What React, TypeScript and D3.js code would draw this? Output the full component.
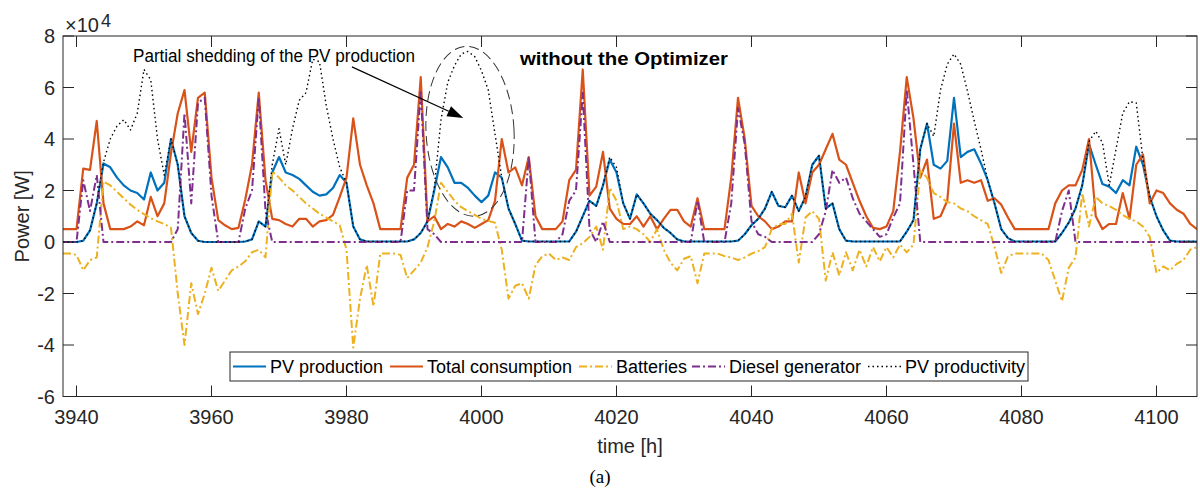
import React from 'react'
import * as d3 from 'd3'

// hourly samples, 3938 .. 4106 h (values in 1e4 W)
const hours = d3.range(3938, 4107)

const pvProduction = [
  0, 0, 0, 0.05, 0.45, 1.5, 3.05, 2.9, 2.5, 2.2,
  2.0, 1.9, 1.65, 2.7, 2.0, 2.3, 4.0, 3.0, 1.0, 0.35,
  0.05, 0, 0, 0, 0, 0, 0, 0.02, 0.1, 0.8,
  0.6, 2.7, 3.3, 2.7, 2.6, 2.45, 2.2, 1.95, 1.8, 1.85,
  2.1, 2.6, 2.3, 0.6, 0.1, 0.02, 0.02, 0.02, 0.02, 0.02,
  0.02, 0.02, 0.1, 0.35, 0.8, 2.0, 3.3, 2.9, 2.3, 2.3,
  2.1, 1.8, 1.55, 1.8, 2.7, 2.5, 1.3, 0.7, 0.05, 0.02,
  0.02, 0.02, 0.02, 0.02, 0.02, 0.02, 0.4, 1.0, 1.6, 1.4,
  2.2, 3.2, 2.7, 1.5, 0.9, 1.85, 1.5, 1.1, 0.85, 0.55,
  0.35, 0.1, 0.02, 0.02, 0.02, 0.02, 0.02, 0.02, 0.02, 0.02,
  0.05, 0.3, 0.65, 0.9, 1.3, 1.95, 1.4, 1.35, 1.8, 1.2,
  1.75, 3.0, 3.35, 1.3, 1.5, 0.5, 0.05, 0.02, 0.02, 0.02,
  0.02, 0.02, 0.02, 0.02, 0.02, 0.4, 0.85, 3.6, 4.6, 3.0,
  2.85, 3.15, 5.6, 3.3, 3.5, 3.6, 3.05, 2.4, 1.5, 0.5,
  0.15, 0.02, 0.02, 0.02, 0.02, 0.02, 0.02, 0.02, 0.35, 0.75,
  1.3, 2.2, 3.8, 3.0, 2.25, 2.15, 1.9, 2.4, 2.2, 3.7,
  3.0, 1.75, 1.0, 0.45, 0.05, 0.02, 0.02, 0.02, 0.02,
]

const totalConsumption = [
  0.5, 0.5, 0.5, 2.85, 2.8, 4.7, 1.5, 0.5, 0.5, 0.5,
  0.6, 0.8, 0.65, 1.75, 1.0, 1.5, 3.45, 5.0, 5.9, 3.5,
  5.6, 5.8, 2.5, 0.85, 0.65, 0.5, 0.55, 1.65, 3.0, 5.8,
  2.4, 0.9, 0.85, 0.7, 0.6, 0.9, 0.9, 0.6, 0.8, 0.85,
  1.05, 1.75, 2.5, 4.8, 3.0, 2.2, 1.5, 0.5, 0.5, 0.5,
  0.5, 2.5, 3.0, 6.4, 0.8, 1.0, 0.5, 0.7, 0.6, 0.8,
  0.7, 0.55, 0.7, 0.85, 1.6, 4.0, 2.7, 2.9, 2.2, 3.3,
  1.0, 0.5, 0.5, 0.5, 0.8, 2.4, 2.8, 6.7, 1.8, 2.15,
  3.5, 1.3, 0.9, 0.7, 0.7, 1.0, 0.6, 1.0, 0.5, 0.9,
  1.25, 1.25, 0.8, 0.6, 1.7, 0.5, 0.5, 0.5, 0.5, 2.5,
  5.6, 4.0, 1.4, 1.0, 0.8, 0.5, 0.6, 0.8, 0.8, 2.7,
  1.5, 2.7, 3.0, 3.6, 4.2, 3.2, 3.0, 2.3, 1.6, 1.0,
  0.55, 0.5, 0.6, 1.2, 3.5, 6.4, 4.8, 2.5, 3.2, 0.9,
  1.0, 1.6, 4.6, 2.3, 2.4, 2.3, 2.4, 1.6, 1.7, 1.45,
  0.95, 0.5, 0.5, 0.5, 0.5, 0.5, 0.5, 1.5, 2.0, 2.2,
  2.2, 2.8, 4.0, 1.0, 0.5, 0.7, 0.7, 1.9, 0.9, 3.0,
  3.4, 1.5, 2.0, 1.9, 1.5, 1.25, 1.1, 0.7, 0.5,
]

const batteries = [
  -0.45, -0.45, -0.5, -1.1, -0.7, -0.6, 2.35, 2.2, 1.95, 1.7,
  1.45, 1.25, 1.08, 0.92, 0.8, 0.7, 0.55, -2.0, -4.0, -1.6,
  -2.8, -2.0, -1.0, -1.9, -1.5, -1.1, -0.95, -0.75, -0.4, -0.3,
  -0.6, 2.75, 2.5, 2.2, 2.0, 1.75, 1.5, 1.3, 1.1, 0.95,
  0.8, 0.65, -0.3, -4.1, -2.2, -0.9, -2.5, -0.45, -0.45, -0.45,
  -0.5, -1.4, -1.1, -0.8, -0.2, 0.8, 2.3, 1.95, 1.6, 1.35,
  1.2, 1.05, 0.9, 0.82, 0.75, -0.3, -2.2, -1.7, -1.6, -2.2,
  -0.9, -0.55, -0.45, -0.7, -0.6, -0.7, -0.2, -0.05, 0.2, 0.6,
  -0.3, 2.1, 1.6, 0.5, 0.6, 0.5, 0.3, 0.0, 0.5, -0.3,
  -0.8, -1.1, -0.65, -0.55, -1.6, -0.45, -0.45, -0.45, -0.55, -0.6,
  -0.7, -0.6, -0.45, -0.35, -0.2, 0.5, 0.7, 0.7, 1.1, -0.8,
  0.95, 1.2, 0.9, -1.5, -0.4, -1.3, -0.4, -1.1, -0.3, -0.95,
  -0.2, -0.75, -0.2, -0.6, -0.1, -0.4, -0.1, 2.8, 2.5, 1.9,
  1.75, 1.55, 1.5, 1.3, 1.2, 1.0, 0.85, 0.7, -0.2, -1.2,
  -0.55, -0.45, -0.45, -0.45, -0.45, -0.45, -0.7, -1.5, -2.3, -1.0,
  -0.6, 1.9, 0.6, 1.75, 1.5, 1.4, 1.25, 1.05, 0.9, 0.8,
  0.6, 0.2, -1.2, -0.95, -1.1, -0.85, -0.7, -0.3, -0.2,
]

const dieselGenerator = [
  0, 0, 0, 2.4, 1.2, 2.6, 0, 0, 0, 0,
  0, 0, 0, 0, 0, 0, 0, 0.5, 5.0, 1.5,
  5.4, 5.6, 1.8, 0, 0, 0, 0, 1.3, 2.0, 5.6,
  1.2, 0, 0, 0, 0, 0, 0, 0, 0, 0,
  0, 0, 0, 0, 0, 0, 0, 0, 0, 0,
  0, 2.0, 2.0, 5.9, 0.5, 0.3, 0, 0, 0, 0,
  0, 0, 0, 0, 0, 0, 0, 0, 0, 3.3,
  0, 0, 0, 0, 0.3, 1.6, 2.0, 5.8, 0.5, 0,
  0.8, 0, 0, 0, 0, 0, 0, 0, 0, 0,
  0, 0, 0, 0, 1.6, 0, 0, 0, 0, 1.5,
  5.2, 3.8, 0.8, 0.3, 0.2, 0, 0, 0, 0, 0,
  0, 0, 0.3, 1.2, 2.8, 2.3, 2.5, 1.7, 1.1, 0.8,
  0.5, 0.2, 0.3, 0.95, 1.5, 5.9, 3.0, 0, 0, 0,
  0, 0, 0, 0, 0, 0, 0, 0, 0, 0,
  0, 0, 0, 0, 0, 0, 0, 0, 1.2, 2.0,
  0, 0, 0, 0, 0, 0, 0, 0, 0, 0,
  0, 0, 0, 0, 0, 0, 0, 0, 0,
]

const pvProductivity = [
  0, 0, 0, 0.05, 0.45, 1.5, 3.1, 4.0, 4.5, 4.75,
  4.35, 5.0, 6.7, 6.3, 4.0, 2.6, 4.0, 3.0, 1.0, 0.35,
  0.05, 0, 0, 0, 0, 0, 0, 0.02, 0.1, 0.8,
  0.6, 3.0, 4.4, 3.0, 4.4, 5.5, 5.8, 7.1, 7.0, 5.3,
  4.0, 2.9, 2.3, 0.6, 0.1, 0.02, 0.02, 0.02, 0.02, 0.02,
  0.02, 0.02, 0.1, 0.35, 0.8, 2.1, 4.75, 6.2, 6.85, 7.3,
  7.4, 7.2, 6.65, 5.9, 4.2, 2.5, 1.3, 0.7, 0.05, 0.02,
  0.02, 0.02, 0.02, 0.02, 0.02, 0.02, 0.4, 1.0, 1.6, 1.4,
  2.2, 3.3, 2.9, 1.5, 0.9, 1.85, 1.5, 1.1, 0.85, 0.55,
  0.35, 0.1, 0.02, 0.02, 0.02, 0.02, 0.02, 0.02, 0.02, 0.02,
  0.05, 0.3, 0.65, 0.9, 1.3, 1.95, 1.4, 1.35, 1.8, 1.2,
  1.75, 3.0, 3.35, 1.3, 1.5, 0.5, 0.05, 0.02, 0.02, 0.02,
  0.02, 0.02, 0.02, 0.02, 0.02, 0.4, 0.85, 3.6, 4.6, 4.1,
  5.9, 6.9, 7.3, 6.9, 5.85, 4.7, 3.6, 2.4, 1.5, 0.5,
  0.15, 0.02, 0.02, 0.02, 0.02, 0.02, 0.02, 0.02, 0.35, 0.75,
  1.3, 2.2, 3.9, 4.3, 3.85, 2.2, 3.6, 5.0, 5.45, 5.4,
  3.2, 1.75, 1.0, 0.45, 0.05, 0.02, 0.02, 0.02, 0.02,
]

const xTicks = [3940, 3960, 3980, 4000, 4020, 4040, 4060, 4080, 4100]
const yTicks = [-6, -4, -2, 0, 2, 4, 6, 8]

const series = [
  { name: 'PV production', values: pvProduction, color: '#0072BD', dash: null, width: 2.2 },
  { name: 'Total consumption', values: totalConsumption, color: '#D95319', dash: null, width: 2.2 },
  { name: 'Batteries', values: batteries, color: '#EDB120', dash: '8,3,2,3', width: 2 },
  { name: 'Diesel generator', values: dieselGenerator, color: '#7E2F8E', dash: '8,3,2,3', width: 2 },
  { name: 'PV productivity', values: pvProductivity, color: '#000000', dash: '1.5,3', width: 1.4 },
]

// legend entries: sample line start (px)
const legendPos = [233, 390, 579, 692, 868]

const axisColor = '#262626'
const font = '"Liberation Sans", Arial, sans-serif'

const App = () => {
  const x = d3.scaleLinear().domain([3938, 4106]).range([63, 1197])
  const y = d3.scaleLinear().domain([-6, 8]).range([396.5, 36])
  const [x0, x1] = x.range()
  const [yb, yt] = y.range()

  const path = (vals: number[]) =>
    d3.line<number>()
      .x((_, i) => x(hours[i]))
      .y(d => y(d))(vals)

  // annotation arrow & ellipse, in data units
  const arrowFrom = [x(3980.8), y(6.8)]
  const arrowTo = [x(3997.3), y(4.82)]
  const ang = Math.atan2(arrowTo[1] - arrowFrom[1], arrowTo[0] - arrowFrom[0])
  const headL = 16, headW = 5.5
  const bx = arrowTo[0] - headL * Math.cos(ang), by = arrowTo[1] - headL * Math.sin(ang)
  const head = [
    [arrowTo[0], arrowTo[1]],
    [bx + headW * Math.sin(ang), by - headW * Math.cos(ang)],
    [bx - headW * Math.sin(ang), by + headW * Math.cos(ang)],
  ].map(p => p.join(',')).join(' ')
  const ellCx = x(3998.3), ellCy = y(4.3)

  return (
    <svg width={1200} height={491} style={{ position: 'absolute', left: 0, top: 0, background: '#fff' }}
      fontFamily={font}>
      <defs>
        <clipPath id="plot">
          <rect x={x0} y={yt} width={x1 - x0} height={yb - yt} />
        </clipPath>
      </defs>

      <g clipPath="url(#plot)" fill="none" strokeLinejoin="round">
        {series.map(s => (
          <path key={s.name} d={path(s.values) || ''} stroke={s.color} strokeWidth={s.width}
            strokeDasharray={s.dash || undefined} />
        ))}
      </g>

      {/* annotations */}
      <text x={133} y={62} fontSize={17.5} fill="#000" textLength={282} lengthAdjust="spacingAndGlyphs">
        Partial shedding of the PV production
      </text>
      <line x1={arrowFrom[0]} y1={arrowFrom[1]} x2={bx} y2={by} stroke="#000" strokeWidth={1.2} />
      <polygon points={head} fill="#000" />
      <ellipse cx={ellCx} cy={ellCy} rx={44} ry={85} fill="none" stroke="#333" strokeWidth={1}
        strokeDasharray="10,5" transform={`rotate(-3 ${ellCx} ${ellCy})`} />
      <text x={520} y={65} fontSize={19} fontWeight="bold" fill="#000" textLength={208}
        lengthAdjust="spacingAndGlyphs">without the Optimizer</text>

      {/* axes box */}
      <rect x={x0} y={yt} width={x1 - x0} height={yb - yt} fill="none" stroke={axisColor} strokeWidth={1} />
      {xTicks.map(t => (
        <g key={'x' + t}>
          <line x1={x(t)} x2={x(t)} y1={yb} y2={yb - 11} stroke={axisColor} />
          <line x1={x(t)} x2={x(t)} y1={yt} y2={yt + 11} stroke={axisColor} />
          <text x={x(t)} y={424} fontSize={20} textAnchor="middle" fill={axisColor}>{t}</text>
        </g>
      ))}
      {yTicks.map(t => (
        <g key={'y' + t}>
          <line x1={x0} x2={x0 + 11} y1={y(t)} y2={y(t)} stroke={axisColor} />
          <line x1={x1} x2={x1 - 11} y1={y(t)} y2={y(t)} stroke={axisColor} />
          <text x={55} y={y(t) + 7} fontSize={20} textAnchor="end" fill={axisColor}>{t}</text>
        </g>
      ))}
      <text x={65} y={32} fontSize={20} fill={axisColor}>×10</text>
      <text x={101} y={27} fontSize={18} fill={axisColor}>4</text>

      <text transform={`translate(29, ${(yt + yb) / 2}) rotate(-90)`} fontSize={20} textAnchor="middle"
        fill={axisColor}>Power [W]</text>
      <text x={(x0 + x1) / 2} y={453} fontSize={20} textAnchor="middle" fill={axisColor}>time [h]</text>
      <text x={600} y={483} fontSize={19} textAnchor="middle" fill="#000"
        fontFamily='"Liberation Serif", "Times New Roman", serif'>(a)</text>

      {/* legend */}
      <rect x={230} y={352} width={798} height={29} fill="#fff" stroke={axisColor} strokeWidth={1} />
      {series.map((s, i) => (
        <g key={'lg' + s.name}>
          <line x1={legendPos[i]} x2={legendPos[i] + 33} y1={366.5} y2={366.5} stroke={s.color}
            strokeWidth={s.width} strokeDasharray={s.dash || undefined} />
          <text x={legendPos[i] + 37} y={373} fontSize={18} fill="#000">{s.name}</text>
        </g>
      ))}
    </svg>
  )
}

export default App
